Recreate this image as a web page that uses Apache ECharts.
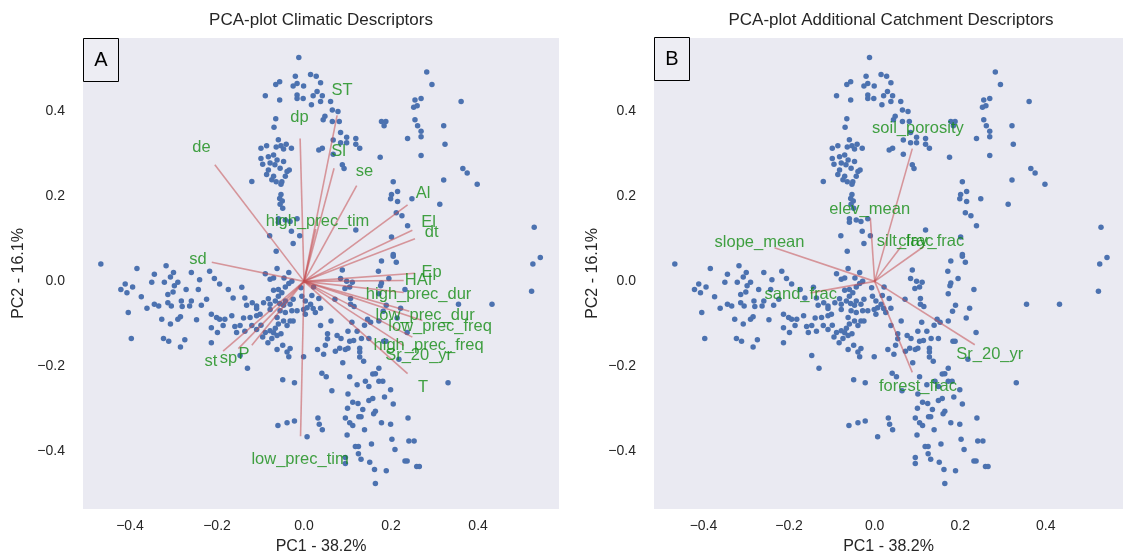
<!DOCTYPE html>
<html>
<head>
<meta charset="utf-8">
<script src="https://cdn.jsdelivr.net/npm/echarts@6/dist/echarts.min.js"></script>
<style>
  html, body { margin: 0; padding: 0; background: #ffffff; }
  #chart { width: 1123px; height: 560px; }
</style>
</head>
<body>
<div id="chart"></div>
<script>
// PCA scores of the catchments: [PC1, PC2]
const scores = [
  [-0.012,0.526],[-0.020,0.482],[-0.056,0.469],[-0.065,0.463],[-0.016,0.465],[-0.025,0.459],[-0.001,0.459],[-0.089,0.436],
  [-0.056,0.426],[-0.016,0.438],[-0.016,0.430],[-0.002,0.430],[-0.065,0.382],[-0.069,0.362],[-0.059,0.333],[-0.099,0.313],
  [-0.086,0.319],[-0.064,0.316],[-0.053,0.319],[-0.041,0.322],[-0.029,0.313],[-0.047,0.311],[-0.099,0.289],[-0.082,0.293],
  [-0.070,0.297],[-0.062,0.285],[-0.047,0.282],[-0.095,0.275],[-0.078,0.278],[-0.067,0.274],[-0.082,0.262],[-0.055,0.266],
  [-0.039,0.258],[-0.034,0.262],[-0.086,0.251],[-0.070,0.247],[-0.043,0.247],[-0.074,0.239],[-0.064,0.234],[-0.051,0.234],
  [-0.120,0.235],[-0.053,0.228],[-0.053,0.204],[-0.056,0.195],[-0.050,0.189],[-0.055,0.181],[-0.049,0.172],[-0.059,0.147],
  [-0.043,0.144],[-0.016,0.147],[-0.059,0.139],[-0.032,0.141],[-0.029,0.118],[-0.079,0.107],[-0.010,0.107],[-0.025,0.089],
  [-0.064,0.071],
  [0.015,0.486],[0.028,0.482],[0.038,0.467],[0.030,0.446],[0.021,0.436],[0.042,0.436],[0.017,0.415],[0.038,0.423],
  [0.061,0.423],[0.065,0.403],[0.078,0.399],[0.048,0.388],[0.044,0.380],[0.065,0.376],[0.081,0.376],[0.084,0.350],
  [0.067,0.332],[0.098,0.339],[0.119,0.336],[0.084,0.326],[0.098,0.326],[0.119,0.322],[0.128,0.313],[0.034,0.309],
  [0.042,0.313],[0.067,0.299],[0.088,0.274],[0.092,0.265],[0.178,0.376],[0.188,0.376],[0.184,0.366],[0.175,0.292],
  [0.282,0.492],[0.294,0.463],[0.255,0.426],[0.269,0.430],[0.252,0.409],[0.260,0.413],[0.361,0.423],[0.255,0.380],
  [0.261,0.366],[0.269,0.353],[0.269,0.340],[0.238,0.336],[0.269,0.296],[0.321,0.366],[0.324,0.322],[0.365,0.265],
  [0.375,0.255],[0.398,0.228],[0.321,0.238],[0.312,0.181],[0.248,0.194],[0.205,0.234],[0.215,0.211],[0.201,0.204],
  [0.199,0.194],[0.215,0.188],[0.212,0.161],[0.225,0.154],[0.238,0.131],[0.119,0.121],[0.201,0.104],[0.205,0.063],
  [0.205,0.059],[0.529,0.127],
  [-0.467,0.041],[-0.384,0.030],[-0.317,0.037],[-0.344,0.017],[-0.300,0.021],[-0.259,0.021],[-0.217,0.024],[-0.307,0.010],
  [-0.411,-0.006],[-0.394,-0.013],[-0.421,-0.019],[-0.407,-0.027],[-0.350,-0.002],[-0.321,-0.002],[-0.298,-0.010],[-0.290,-0.002],
  [-0.240,0.004],[-0.206,0.007],[-0.194,-0.006],[-0.374,-0.036],[-0.313,-0.031],[-0.301,-0.025],[-0.271,-0.019],[-0.243,-0.019],
  [-0.282,-0.046],[-0.313,-0.050],[-0.305,-0.058],[-0.344,-0.054],[-0.334,-0.058],[-0.361,-0.063],[-0.280,-0.059],[-0.259,-0.046],
  [-0.263,-0.058],[-0.236,-0.056],[-0.224,-0.042],[-0.404,-0.073],[-0.327,-0.089],[-0.307,-0.100],[-0.290,-0.089],[-0.284,-0.083],
  [-0.247,-0.090],[-0.213,-0.077],[-0.213,-0.109],[-0.199,-0.120],[-0.201,-0.085],[-0.194,-0.089],[-0.186,-0.104],[-0.182,-0.089],
  [-0.166,-0.081],[-0.159,-0.106],[-0.155,-0.120],[-0.147,-0.104],[-0.136,-0.117],[-0.139,-0.086],[-0.124,-0.085],[-0.120,-0.104],
  [-0.109,-0.081],[-0.101,-0.077],[-0.099,-0.103],[-0.109,-0.113],[-0.095,-0.131],[-0.089,-0.120],[-0.083,-0.144],[-0.074,-0.134],
  [-0.078,-0.116],[-0.070,-0.121],[-0.062,-0.127],[-0.053,-0.123],[-0.066,-0.110],[-0.059,-0.100],[-0.047,-0.093],[-0.032,-0.093],
  [-0.062,-0.085],[-0.078,-0.066],[-0.055,-0.069],[-0.043,-0.073],[-0.028,-0.069],[-0.032,-0.054],[-0.047,-0.056],[-0.043,-0.046],
  [-0.056,-0.052],[-0.066,-0.046],[-0.082,-0.041],[-0.078,-0.054],[-0.093,-0.050],[-0.109,-0.058],[-0.109,-0.064],[-0.119,-0.050],
  [-0.132,-0.056],[-0.136,-0.039],[-0.143,-0.014],[-0.174,-0.019],[-0.163,-0.039],[-0.070,-0.021],[-0.059,-0.019],[-0.051,-0.027],
  [-0.043,-0.013],[-0.078,0.005],[-0.070,0.008],[-0.089,0.018],[-0.062,0.030],[-0.046,0.008],[-0.035,0.021],[-0.028,0.000],
  [-0.035,-0.005],[-0.059,-0.035],[-0.025,-0.042],[-0.007,-0.015],[-0.005,-0.035],[0.003,-0.046],[-0.001,-0.066],[-0.016,-0.069],
  [0.003,-0.077],[-0.025,-0.093],[-0.039,-0.104],[-0.049,-0.150],[-0.062,-0.160],[-0.039,-0.166],[-0.032,-0.158],[-0.035,-0.177],
  [-0.001,-0.177],[-0.147,-0.174],[-0.130,-0.204],[-0.049,-0.231],[-0.022,-0.238],[-0.060,-0.339],[-0.039,-0.332],[-0.022,-0.328],
  [0.007,-0.365],[-0.274,-0.137],[-0.284,-0.154],[-0.311,-0.141],[-0.323,-0.134],[-0.397,-0.134],[-0.213,-0.144],
  [0.178,0.048],[0.212,0.045],[0.088,0.027],[0.171,0.024],[0.195,0.007],[0.084,0.007],[0.098,0.000],[0.111,-0.002],
  [0.105,-0.013],[0.094,-0.017],[0.178,-0.004],[0.176,-0.010],[0.172,-0.029],[0.232,-0.019],[0.022,-0.013],[0.018,-0.033],
  [0.034,-0.040],[0.071,-0.042],[0.107,-0.040],[0.107,-0.054],[0.115,-0.059],[0.015,-0.054],[0.007,-0.062],[0.021,-0.064],
  [0.038,-0.063],[0.026,-0.073],[0.189,-0.056],[0.222,-0.063],[0.182,-0.070],[0.172,-0.093],[0.214,-0.086],[0.146,-0.089],
  [0.153,-0.096],[0.139,-0.103],[0.110,-0.096],[0.062,-0.093],[0.038,-0.104],[0.237,-0.120],[0.101,-0.117],[0.122,-0.117],
  [0.054,-0.123],[0.076,-0.127],[0.085,-0.134],[0.054,-0.135],[0.132,-0.134],[0.149,-0.134],[0.105,-0.141],[0.114,-0.139],
  [0.183,-0.141],[0.188,-0.141],[0.049,-0.150],[0.031,-0.160],[0.045,-0.171],[0.072,-0.164],[0.082,-0.157],[0.095,-0.160],
  [0.101,-0.157],[0.128,-0.157],[0.128,-0.166],[0.128,-0.178],[0.137,-0.188],[0.089,-0.191],[0.218,-0.183],[0.172,-0.204],
  [0.158,-0.218],[0.164,-0.217],[0.041,-0.216],[0.051,-0.224],[0.105,-0.224],[0.064,-0.257],[0.101,-0.265],[0.122,-0.243],
  [0.141,-0.235],[0.149,-0.247],[0.172,-0.235],[0.181,-0.235],[0.199,-0.255],[0.185,-0.272],[0.158,-0.275],[0.149,-0.280],
  [0.205,-0.288],[0.112,-0.284],[0.124,-0.287],[0.135,-0.301],[0.100,-0.298],[0.164,-0.305],[0.160,-0.311],[0.126,-0.318],
  [0.131,-0.318],[0.095,-0.321],[0.239,-0.321],[0.331,-0.238],[0.355,-0.054],[0.432,-0.054],[0.523,-0.023],[0.526,0.041],
  [0.543,0.056],[0.032,-0.321],[0.035,-0.336],[0.042,-0.349],[0.105,-0.332],[0.112,-0.339],[0.178,-0.332],[0.199,-0.336],
  [0.139,-0.349],[0.099,-0.361],[0.202,-0.371],[0.209,-0.395],[0.155,-0.382],[0.118,-0.388],[0.125,-0.388],[0.125,-0.405],
  [0.095,-0.414],[0.095,-0.428],[0.131,-0.418],[0.151,-0.425],[0.162,-0.442],[0.189,-0.445],[0.164,-0.475],[0.232,-0.422],
  [0.237,-0.422],[0.241,-0.375],[0.253,-0.375],[0.259,-0.435],[0.265,-0.435]
];

// Loadings of the climatic descriptors
const climaticNames = ['ST','dp','Sl','se','de','high_prec_tim','Al','El','dt','sd','Ep','HAI',
  'high_prec_dur','low_prec_dur','low_prec_freq','high_prec_freq','Sr_20_yr','T','st','sp','P','low_prec_tim'];
const climaticPC1 = [0.076,-0.009,0.069,0.121,-0.205,0.027,0.238,0.249,0.255,-0.212,0.255,0.229,
  0.229,0.242,0.272,0.249,0.229,0.238,-0.186,-0.151,-0.120,-0.008];
const climaticPC2 = [0.390,0.336,0.266,0.225,0.274,0.123,0.180,0.120,0.100,0.045,0.019,0.002,
  -0.026,-0.070,-0.092,-0.131,-0.151,-0.217,-0.164,-0.158,-0.150,-0.364];

// Loadings of the additional catchment descriptors
const catchmentNames = ['soil_porosity','elev_mean','slope_mean','silt_frac','clay_frac','sand_frac','forest_frac','Sr_20_yr'];
const catchmentPC1 = [0.088,-0.010,-0.234,0.062,0.115,-0.150,0.088,0.234];
const catchmentPC2 = [0.312,0.148,0.079,0.082,0.082,-0.027,-0.214,-0.149];

const tickValues = [-0.4, -0.2, 0.0, 0.2, 0.4];
const labelScale = 1.15; // descriptor names sit a bit beyond the arrow tip

const FONT = '"Liberation Sans", Arial, Helvetica, sans-serif';
const INK = '#262626';
const BG = '#EAEAF2';
const DOT = '#4C72B0';
const ARROW = 'rgba(196,78,82,0.55)';
const NAME = '#148c14';

const fmt = v => (v < 0 ? '\u2212' : '') + Math.abs(v).toFixed(1);

function xAxis(gi, min, max) {
  return {
    type: 'value', gridIndex: gi, min: min, max: max,
    name: 'PC1 - 38.2%', nameLocation: 'middle', nameGap: 30,
    nameTextStyle: { fontSize: 16, color: INK, fontFamily: FONT },
    axisLine: { show: false }, axisTick: { show: false }, splitLine: { show: false },
    axisLabel: { customValues: tickValues, formatter: fmt, margin: 10, fontSize: 14, color: INK, fontFamily: FONT }
  };
}
function yAxis(gi, min, max, gap) {
  return {
    type: 'value', gridIndex: gi, min: min, max: max,
    name: 'PC2 - 16.1%', nameLocation: 'middle', nameGap: gap,
    nameTextStyle: { fontSize: 16, color: INK, fontFamily: FONT },
    axisLine: { show: false }, axisTick: { show: false }, splitLine: { show: false },
    axisLabel: { customValues: tickValues, formatter: fmt, margin: 18, fontSize: 14, color: INK, fontFamily: FONT }
  };
}

function biplotSeries(gi, names, pc1, pc2) {
  const out = [{
    type: 'scatter', xAxisIndex: gi, yAxisIndex: gi, data: scores,
    symbolSize: 5.5, itemStyle: { color: DOT, opacity: 1 }, z: 2, silent: true
  }];
  names.forEach((n, i) => {
    out.push({
      type: 'line', xAxisIndex: gi, yAxisIndex: gi,
      data: [[0, 0], [pc1[i], pc2[i]]], symbol: 'none',
      lineStyle: { color: ARROW, width: 1.6 }, z: 3, silent: true
    });
  });
  out.push({
    type: 'scatter', xAxisIndex: gi, yAxisIndex: gi, symbolSize: 1,
    itemStyle: { color: 'rgba(0,0,0,0)' }, z: 4, silent: true,
    data: names.map((n, i) => ({ name: n, value: [pc1[i] * labelScale, pc2[i] * labelScale] })),
    label: { show: true, position: 'inside', formatter: '{b}', color: NAME, fontSize: 16.5, fontFamily: FONT }
  });
  return out;
}

const yMin = -0.535, yMax = 0.572;
const option = {
  animation: false,
  backgroundColor: '#ffffff',
  grid: [
    { left: 83, top: 38, width: 476, height: 478, show: true, backgroundColor: BG, borderWidth: 0 },
    { left: 654, top: 38, width: 474, height: 478, show: true, backgroundColor: BG, borderWidth: 0 }
  ],
  xAxis: [xAxis(0, -0.508, 0.586), xAxis(1, -0.5156, 0.5804)],
  yAxis: [yAxis(0, yMin, yMax, 56), yAxis(1, yMin, yMax, 53)],
  series: [].concat(
    biplotSeries(0, climaticNames, climaticPC1, climaticPC2),
    biplotSeries(1, catchmentNames, catchmentPC1, catchmentPC2)
  ),
  graphic: [
    { type: 'text', x: 321, y: 20, style: { text: 'PCA-plot Climatic Descriptors', textAlign: 'center', textVerticalAlign: 'middle', fill: INK, font: '17px ' + FONT } },
    { type: 'text', x: 891, y: 20, style: { text: 'PCA-plot Additional Catchment Descriptors', textAlign: 'center', textVerticalAlign: 'middle', fill: INK, font: '17px ' + FONT } },
    { type: 'rect', shape: { x: 83.5, y: 38.5, width: 35, height: 43 }, style: { fill: '#EDEDF3', stroke: '#000', lineWidth: 1 }, z: 100 },
    { type: 'text', x: 101, y: 60, style: { text: 'A', textAlign: 'center', textVerticalAlign: 'middle', fill: '#000', font: '20px ' + FONT }, z: 101 },
    { type: 'rect', shape: { x: 654.5, y: 37.5, width: 35, height: 43 }, style: { fill: '#EDEDF3', stroke: '#000', lineWidth: 1 }, z: 100 },
    { type: 'text', x: 672, y: 59, style: { text: 'B', textAlign: 'center', textVerticalAlign: 'middle', fill: '#000', font: '20px ' + FONT }, z: 101 }
  ]
};

const chart = echarts.init(document.getElementById('chart'), null, { renderer: 'canvas' });
chart.setOption(option);
</script>
</body>
</html>
